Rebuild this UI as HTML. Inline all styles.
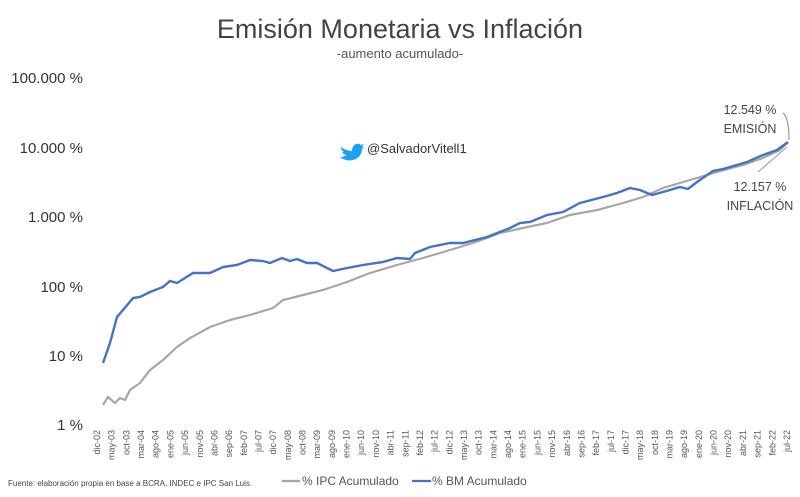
<!DOCTYPE html>
<html><head><meta charset="utf-8"><style>
body{margin:0;background:#fff;}
svg{display:block;font-family:"Liberation Sans",sans-serif;}
</style></head><body>
<svg width="800" height="497" viewBox="0 0 800 497">
<rect width="800" height="497" fill="#fff"/>
<text x="400" y="38" text-anchor="middle" font-size="27" fill="#444">Emisión Monetaria vs Inflación</text>
<text x="400" y="58" text-anchor="middle" font-size="13" fill="#555">-aumento acumulado-</text>
<g font-size="15" fill="#333" text-anchor="end">
<text x="83" y="83">100.000 %</text>
<text x="83" y="153">10.000 %</text>
<text x="83" y="222">1.000 %</text>
<text x="83" y="292">100 %</text>
<text x="83" y="361">10 %</text>
<text x="83" y="430">1 %</text>
</g>
<g transform="translate(350,148)"><path d="M-9 -1 C-5 2 -1 3 2 3 C2 -4 8 -6 11 -3 L14 -4 L12 -1 L14 -1 L12 1 C12 9 4 14 -4 12 C-7 11 -9 10 -10 9 C-7 9 -5 8 -3 7 C-6 7 -7 5 -8 4 L-6 4 C-8 3 -9 1 -9 -1 Z" fill="#1da1f2"/></g>
<text x="367" y="153" font-size="13" fill="#333">@SalvadorVitell1</text>
<polyline fill="none" stroke="#a6a6a6" stroke-width="2.2" points="103,405 108,397 115,403 120,398 125,400 130,390 140,383 150,370 163,360 177,347 190,338 210,327 230,320 250,315 273,308 283,300 303,295 323,290 347,282 370,273 397,265 423,258 440,253 450,250 473,243 487,238 500,233 523,228 547,223 570,215 597,210 623,203 643,197 663,188 690,180 717,172 743,165 763,158 780,150 788,142"/>
<polyline fill="none" stroke="#4472c4" stroke-width="2.4" points="103,363 110,343 117,317 123,310 133,298 140,297 150,292 163,287 170,281 177,283 193,273 210,273 223,267 237,265 250,260 263,261 270,263 282,258 290,261 297,259 307,263 317,263 333,271 347,268 363,265 383,262 397,258 410,259 415,253 430,247 450,243 463,243 487,237 510,228 520,223 530,222 547,215 563,212 580,203 603,197 617,193 630,188 640,190 652,195 663,192 680,187 688,189 697,182 713,171 723,169 730,167 747,162 763,155 777,150 788,142"/>
<text x="750" y="114" text-anchor="middle" font-size="12.5" fill="#444">12.549 %</text>
<text x="750" y="133" text-anchor="middle" font-size="12.5" fill="#444">EMISIÓN</text>
<path d="M783 113 Q789 118 789 140" fill="none" stroke="#888"/>
<text x="760" y="191" text-anchor="middle" font-size="12.5" fill="#444">12.157 %</text>
<text x="760" y="210" text-anchor="middle" font-size="12.5" fill="#444">INFLACIÓN</text>
<line x1="758" y1="172" x2="787" y2="147" stroke="#999"/>
<g font-size="9" fill="#555" text-anchor="end">
<text transform="translate(100,430) rotate(-90)">dic-02</text>
<text transform="translate(114.7,430) rotate(-90)">may-03</text>
<text transform="translate(129.4,430) rotate(-90)">oct-03</text>
<text transform="translate(144,430) rotate(-90)">mar-04</text>
<text transform="translate(158.7,430) rotate(-90)">ago-04</text>
<text transform="translate(173.4,430) rotate(-90)">ene-05</text>
<text transform="translate(188.1,430) rotate(-90)">jun-05</text>
<text transform="translate(202.8,430) rotate(-90)">nov-05</text>
<text transform="translate(217.4,430) rotate(-90)">abr-06</text>
<text transform="translate(232.1,430) rotate(-90)">sep-06</text>
<text transform="translate(246.8,430) rotate(-90)">feb-07</text>
<text transform="translate(261.5,430) rotate(-90)">jul-07</text>
<text transform="translate(276.2,430) rotate(-90)">dic-07</text>
<text transform="translate(290.8,430) rotate(-90)">may-08</text>
<text transform="translate(305.5,430) rotate(-90)">oct-08</text>
<text transform="translate(320.2,430) rotate(-90)">mar-09</text>
<text transform="translate(334.9,430) rotate(-90)">ago-09</text>
<text transform="translate(349.6,430) rotate(-90)">ene-10</text>
<text transform="translate(364.2,430) rotate(-90)">jun-10</text>
<text transform="translate(378.9,430) rotate(-90)">nov-10</text>
<text transform="translate(393.6,430) rotate(-90)">abr-11</text>
<text transform="translate(408.3,430) rotate(-90)">sep-11</text>
<text transform="translate(423,430) rotate(-90)">feb-12</text>
<text transform="translate(437.6,430) rotate(-90)">jul-12</text>
<text transform="translate(452.3,430) rotate(-90)">dic-12</text>
<text transform="translate(467,430) rotate(-90)">may-13</text>
<text transform="translate(481.7,430) rotate(-90)">oct-13</text>
<text transform="translate(496.4,430) rotate(-90)">mar-14</text>
<text transform="translate(511,430) rotate(-90)">ago-14</text>
<text transform="translate(525.7,430) rotate(-90)">ene-15</text>
<text transform="translate(540.4,430) rotate(-90)">jun-15</text>
<text transform="translate(555.1,430) rotate(-90)">nov-15</text>
<text transform="translate(569.8,430) rotate(-90)">abr-16</text>
<text transform="translate(584.4,430) rotate(-90)">sep-16</text>
<text transform="translate(599.1,430) rotate(-90)">feb-17</text>
<text transform="translate(613.8,430) rotate(-90)">jul-17</text>
<text transform="translate(628.5,430) rotate(-90)">dic-17</text>
<text transform="translate(643.2,430) rotate(-90)">may-18</text>
<text transform="translate(657.8,430) rotate(-90)">oct-18</text>
<text transform="translate(672.5,430) rotate(-90)">mar-19</text>
<text transform="translate(687.2,430) rotate(-90)">ago-19</text>
<text transform="translate(701.9,430) rotate(-90)">ene-20</text>
<text transform="translate(716.6,430) rotate(-90)">jun-20</text>
<text transform="translate(731.2,430) rotate(-90)">nov-20</text>
<text transform="translate(745.9,430) rotate(-90)">abr-21</text>
<text transform="translate(760.6,430) rotate(-90)">sep-21</text>
<text transform="translate(775.3,430) rotate(-90)">feb-22</text>
<text transform="translate(790,430) rotate(-90)">jul-22</text>
</g>
<text x="8" y="486" font-size="8" fill="#444">Fuente: elaboración propia en base a BCRA, INDEC e IPC San Luis.</text>
<line x1="282" y1="481" x2="300" y2="481" stroke="#a6a6a6" stroke-width="2.2"/>
<text x="302" y="485" font-size="12" fill="#555">% IPC Acumulado</text>
<line x1="412" y1="481" x2="431" y2="481" stroke="#4472c4" stroke-width="2.2"/>
<text x="432" y="485" font-size="12" fill="#555">% BM Acumulado</text>
</svg>
</body></html>
